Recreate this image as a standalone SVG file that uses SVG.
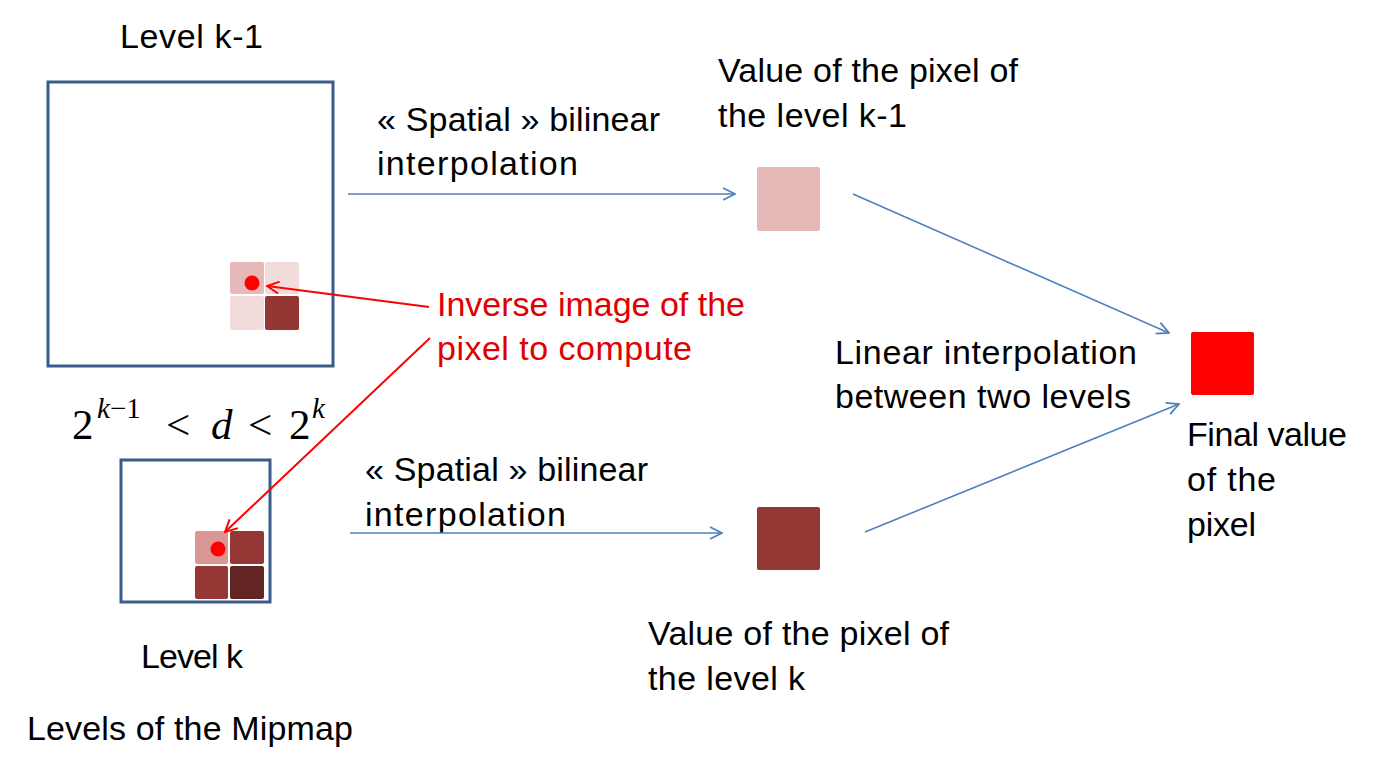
<svg xmlns="http://www.w3.org/2000/svg" width="1379" height="758" viewBox="0 0 1379 758">
<style>
.t{font-family:"Liberation Sans",Arial,sans-serif;font-size:34px;fill:#000}
.r{fill:#E00000}
.m{font-family:"Liberation Serif","Times New Roman",serif;font-size:43px;fill:#000}
.ms{font-size:29px}
.frame{fill:none;stroke:#385D8A;stroke-width:3}
.blue{fill:none;stroke:#4F81BD;stroke-width:1.6}
.red{fill:none;stroke:#FF0000;stroke-width:2}
</style>
<defs>
<marker id="ab" viewBox="0 0 14 14" refX="13" refY="7" markerWidth="14" markerHeight="14" markerUnits="userSpaceOnUse" orient="auto">
<path d="M1,1 L13,7 L1,13" fill="none" stroke="#4F81BD" stroke-width="1.8"/>
</marker>
<marker id="ar" viewBox="0 0 14 14" refX="13" refY="7" markerWidth="14" markerHeight="14" markerUnits="userSpaceOnUse" orient="auto">
<path d="M1,1 L13,7 L1,13" fill="none" stroke="#FF0000" stroke-width="2"/>
</marker>
</defs>
<rect width="1379" height="758" fill="#fff"/>

<g id="level-k-1">
<rect class="frame" x="48" y="82" width="285" height="284"/>
<rect x="230" y="262" width="34" height="32" rx="2" fill="#E6B8B7"/>
<rect x="265" y="262" width="34" height="32" rx="2" fill="#F2DCDB"/>
<rect x="230" y="296" width="34" height="34" rx="2" fill="#F2DCDB"/>
<rect x="265" y="296" width="34" height="34" rx="2" fill="#963634"/>
<circle cx="252" cy="283" r="7.5" fill="#FF0000"/>
<text class="t" x="120" y="48" textLength="143">Level k-1</text>
</g>

<g id="level-k">
<rect class="frame" x="121" y="460" width="149" height="142"/>
<rect x="195" y="531" width="33" height="33" rx="2" fill="#DA9694"/>
<rect x="230" y="531" width="34" height="33" rx="2" fill="#953735"/>
<rect x="195" y="566" width="33" height="33" rx="2" fill="#953735"/>
<rect x="230" y="566" width="34" height="33" rx="2" fill="#632523"/>
<circle cx="218" cy="549" r="7.5" fill="#FF0000"/>
<text class="t" x="141" y="668" textLength="102">Level k</text>
</g>

<g id="condition">
<text class="m" y="439"><tspan x="72">2</tspan><tspan class="ms" x="97" y="418" font-style="italic">k</tspan><tspan class="ms" y="418">−1</tspan><tspan x="166" y="439">&lt;</tspan><tspan x="211" font-style="italic">d</tspan><tspan x="248">&lt;</tspan><tspan x="289">2</tspan><tspan class="ms" x="312" y="418" font-style="italic">k</tspan></text>
</g>

<g id="mipmap-label">
<text class="t" x="27" y="740" textLength="326">Levels of the Mipmap</text>
</g>

<g id="spatial-top">
<text class="t" x="377" y="131" textLength="283">« Spatial » bilinear</text>
<text class="t" x="377" y="175" textLength="201">interpolation</text>
</g>

<g id="spatial-bottom">
<text class="t" x="365" y="481" textLength="283">« Spatial » bilinear</text>
<text class="t" x="365" y="526" textLength="201">interpolation</text>
</g>

<g id="pixel-k-1">
<rect x="757" y="167" width="63" height="64" rx="2" fill="#E6B9B8"/>
<text class="t" x="718" y="82" textLength="300">Value of the pixel of</text>
<text class="t" x="718" y="127" textLength="189">the level k-1</text>
</g>

<g id="pixel-k">
<rect x="757" y="507" width="63" height="63" rx="2" fill="#953735"/>
<text class="t" x="648" y="645" textLength="301">Value of the pixel of</text>
<text class="t" x="648" y="690" textLength="157">the level k</text>
</g>

<g id="inverse-label">
<text class="t r" x="437" y="316" textLength="308">Inverse image of the</text>
<text class="t r" x="437" y="360" textLength="255">pixel to compute</text>
</g>

<g id="linear-label">
<text class="t" x="835" y="364" textLength="302">Linear interpolation</text>
<text class="t" x="835" y="408" textLength="296">between two levels</text>
</g>

<g id="final">
<rect x="1191" y="332" width="63" height="63" rx="2" fill="#FF0000"/>
<text class="t" x="1187" y="446" textLength="160">Final value</text>
<text class="t" x="1187" y="491" textLength="89">of the</text>
<text class="t" x="1187" y="536" textLength="69">pixel</text>
</g>

<g id="connectors">
<line class="blue" x1="348" y1="194" x2="735" y2="194" marker-end="url(#ab)"/>
<line class="blue" x1="350" y1="533" x2="722" y2="533" marker-end="url(#ab)"/>
<line class="blue" x1="853" y1="194" x2="1169" y2="333" marker-end="url(#ab)"/>
<line class="blue" x1="865" y1="532" x2="1179" y2="404" marker-end="url(#ab)"/>
<line class="red" x1="429" y1="307" x2="267" y2="286" marker-end="url(#ar)"/>
<line class="red" x1="430" y1="338" x2="225" y2="532" marker-end="url(#ar)"/>
</g>
</svg>
